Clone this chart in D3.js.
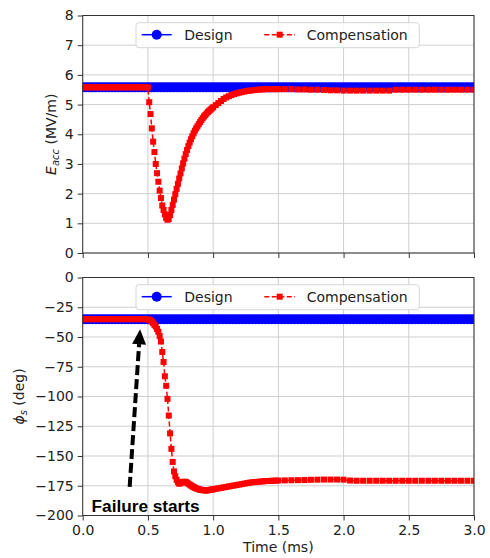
<!DOCTYPE html>
<html>
<head>
<meta charset="utf-8">
<script src="https://cdn.jsdelivr.net/npm/d3@7"></script>
<style>
    body { margin: 0; background: #fff; }
    text { font-family: "DejaVu Sans", sans-serif; fill: #222; }
</style>
</head>
<body>
<div id="chart"></div>
<script>

// time samples of the compensation run (ms)
var timeMs = [
    0.00, 0.02, 0.04, 0.06, 0.08, 0.10, 0.12, 0.14, 0.16, 0.18, 0.20, 0.22, 0.24,
    0.26, 0.28, 0.30, 0.32, 0.34, 0.36, 0.38, 0.40, 0.42, 0.44, 0.46, 0.48,
    0.50, 0.51, 0.52, 0.53, 0.54, 0.55, 0.56, 0.57, 0.58, 0.59, 0.60, 0.61, 0.62,
    0.63, 0.64, 0.65, 0.66, 0.67, 0.68, 0.69, 0.70, 0.71, 0.72, 0.73, 0.74, 0.75,
    0.76, 0.77, 0.78, 0.79, 0.80, 0.81, 0.82, 0.83, 0.84, 0.85, 0.86, 0.87, 0.88,
    0.89, 0.90, 0.91, 0.92, 0.93, 0.94, 0.95, 0.96, 0.97, 0.98, 0.99, 1.00,
    1.02, 1.04, 1.06, 1.08, 1.10, 1.12, 1.14, 1.16, 1.18, 1.20, 1.22, 1.24,
    1.26, 1.28, 1.30, 1.32, 1.34, 1.36, 1.38, 1.40, 1.42, 1.44, 1.46, 1.48, 1.50,
    1.55, 1.60, 1.65, 1.70, 1.75, 1.80, 1.85, 1.90, 1.95, 2.00, 2.05, 2.10,
    2.15, 2.20, 2.25, 2.30, 2.35, 2.40, 2.45, 2.50, 2.55, 2.60, 2.65, 2.70,
    2.75, 2.80, 2.85, 2.90, 2.95, 3.00
];

// Eacc (MV/m), compensation
var eaccComp = [
    5.58, 5.58, 5.58, 5.58, 5.58, 5.58, 5.58, 5.58, 5.58, 5.58, 5.58, 5.58, 5.58,
    5.58, 5.58, 5.58, 5.58, 5.58, 5.58, 5.58, 5.58, 5.58, 5.58, 5.58, 5.58,
    5.58, 5.08, 4.68, 4.20, 3.75, 3.40, 3.00, 2.69, 2.40, 2.10, 1.85, 1.60, 1.45,
    1.30, 1.18, 1.12, 1.15, 1.28, 1.45, 1.62, 1.80, 1.98, 2.16, 2.33, 2.51, 2.68,
    2.85, 3.02, 3.18, 3.33, 3.47, 3.60, 3.72, 3.83, 3.93, 4.03, 4.12, 4.20, 4.27,
    4.34, 4.41, 4.48, 4.54, 4.60, 4.65, 4.70, 4.75, 4.79, 4.83, 4.87, 4.91,
    4.98, 5.05, 5.12, 5.19, 5.24, 5.28, 5.32, 5.35, 5.38, 5.40, 5.42, 5.44,
    5.46, 5.47, 5.48, 5.49, 5.50, 5.51, 5.51, 5.52, 5.52, 5.52, 5.52, 5.52, 5.52,
    5.52, 5.52, 5.51, 5.51, 5.50, 5.50, 5.49, 5.48, 5.48, 5.47, 5.47, 5.47,
    5.47, 5.47, 5.47, 5.47, 5.47, 5.50, 5.50, 5.50, 5.50, 5.50, 5.50, 5.50,
    5.50, 5.50, 5.50, 5.50, 5.50, 5.50
];

// phi_s (deg), compensation
var phiComp = [
    -35, -35, -35, -35, -35, -35, -35, -35, -35, -35, -35, -35, -35,
    -35, -35, -35, -35, -35, -35, -35, -35, -35, -35, -35, -35,
    -35.2, -35.5, -36.0, -37.0, -38.4, -39.8, -41.1, -43.3, -45.6, -49.1, -53.8, -62.6, -71.0,
    -83.0, -91.0, -102.0, -116.0, -131.0, -144.0, -155.0, -163.0, -167.0, -170.0, -172.0, -173.3, -172.8,
    -172.2, -171.8, -171.6, -171.8, -172.5, -173.3, -174.0, -174.8, -175.5, -176.1, -176.7, -177.2, -177.6,
    -178.0, -178.3, -178.5, -178.7, -178.8, -178.9, -178.9, -178.8, -178.6, -178.4, -178.2, -178.0,
    -177.6, -177.2, -176.8, -176.4, -176.0, -175.6, -175.2, -174.8, -174.4, -174.0, -173.6, -173.2,
    -172.8, -172.4, -172.1, -171.9, -171.7, -171.5, -171.3, -171.1, -171.0, -170.9, -170.8, -170.7, -170.6,
    -170.5, -170.4, -170.3, -170.2, -170.0, -169.9, -169.8, -169.8, -169.8, -169.9, -170.6, -170.8,
    -170.8, -170.8, -170.8, -170.8, -170.8, -170.8, -170.8, -170.8, -170.8, -170.8, -170.8, -170.8,
    -170.8, -170.8, -170.8, -170.8, -170.8, -170.8
];

// design values (constant set points)
var designTimeMs = [
    0.000, 0.025, 0.050, 0.075, 0.100, 0.125, 0.150, 0.175, 0.200, 0.225, 0.250, 0.275,
    0.300, 0.325, 0.350, 0.375, 0.400, 0.425, 0.450, 0.475, 0.500, 0.525, 0.550, 0.575,
    0.600, 0.625, 0.650, 0.675, 0.700, 0.725, 0.750, 0.775, 0.800, 0.825, 0.850, 0.875,
    0.900, 0.925, 0.950, 0.975, 1.000, 1.025, 1.050, 1.075, 1.100, 1.125, 1.150, 1.175,
    1.200, 1.225, 1.250, 1.275, 1.300, 1.325, 1.350, 1.375, 1.400, 1.425, 1.450, 1.475,
    1.500, 1.525, 1.550, 1.575, 1.600, 1.625, 1.650, 1.675, 1.700, 1.725, 1.750, 1.775,
    1.800, 1.825, 1.850, 1.875, 1.900, 1.925, 1.950, 1.975, 2.000, 2.025, 2.050, 2.075,
    2.100, 2.125, 2.150, 2.175, 2.200, 2.225, 2.250, 2.275, 2.300, 2.325, 2.350, 2.375,
    2.400, 2.425, 2.450, 2.475, 2.500, 2.525, 2.550, 2.575, 2.600, 2.625, 2.650, 2.675,
    2.700, 2.725, 2.750, 2.775, 2.800, 2.825, 2.850, 2.875, 2.900, 2.925, 2.950, 2.975,
    3.000
];
var eaccDesign = [
    5.58, 5.58, 5.58, 5.58, 5.58, 5.58, 5.58, 5.58, 5.58, 5.58, 5.58, 5.58,
    5.58, 5.58, 5.58, 5.58, 5.58, 5.58, 5.58, 5.58, 5.58, 5.58, 5.58, 5.58,
    5.58, 5.58, 5.58, 5.58, 5.58, 5.58, 5.58, 5.58, 5.58, 5.58, 5.58, 5.58,
    5.58, 5.58, 5.58, 5.58, 5.58, 5.58, 5.58, 5.58, 5.58, 5.58, 5.58, 5.58,
    5.58, 5.58, 5.58, 5.58, 5.58, 5.58, 5.58, 5.58, 5.58, 5.58, 5.58, 5.58,
    5.58, 5.58, 5.58, 5.58, 5.58, 5.58, 5.58, 5.58, 5.58, 5.58, 5.58, 5.58,
    5.58, 5.58, 5.58, 5.58, 5.58, 5.58, 5.58, 5.58, 5.58, 5.58, 5.58, 5.58,
    5.58, 5.58, 5.58, 5.58, 5.58, 5.58, 5.58, 5.58, 5.58, 5.58, 5.58, 5.58,
    5.58, 5.58, 5.58, 5.58, 5.58, 5.58, 5.58, 5.58, 5.58, 5.58, 5.58, 5.58,
    5.58, 5.58, 5.58, 5.58, 5.58, 5.58, 5.58, 5.58, 5.58, 5.58, 5.58, 5.58,
    5.58
];
var phiDesign = [
    -35, -35, -35, -35, -35, -35, -35, -35, -35, -35, -35, -35,
    -35, -35, -35, -35, -35, -35, -35, -35, -35, -35, -35, -35,
    -35, -35, -35, -35, -35, -35, -35, -35, -35, -35, -35, -35,
    -35, -35, -35, -35, -35, -35, -35, -35, -35, -35, -35, -35,
    -35, -35, -35, -35, -35, -35, -35, -35, -35, -35, -35, -35,
    -35, -35, -35, -35, -35, -35, -35, -35, -35, -35, -35, -35,
    -35, -35, -35, -35, -35, -35, -35, -35, -35, -35, -35, -35,
    -35, -35, -35, -35, -35, -35, -35, -35, -35, -35, -35, -35,
    -35, -35, -35, -35, -35, -35, -35, -35, -35, -35, -35, -35,
    -35, -35, -35, -35, -35, -35, -35, -35, -35, -35, -35, -35,
    -35
];

var seriesNames = ["Design", "Compensation"];
var timeTicks = [0, 0.5, 1.0, 1.5, 2.0, 2.5, 3.0];
var eaccTicks = [0, 1, 2, 3, 4, 5, 6, 7, 8];
var phiTicks = [-200, -175, -150, -125, -100, -75, -50, -25, 0];

// annotation in the phase panel: arrow tail, arrow tip, text anchor
var failureArrow = [[0.36, -176], [0.44, -43.5]];
var failureLabel = { text: "Failure starts", at: [0.068, -196.8] };


var width = 490, height = 558;
var left = 82.7, right = 474;

var svg = d3.select("#chart").append("svg")
    .attr("width", width)
    .attr("height", height);

var x = d3.scaleLinear()
    .domain([0, 3])
    .range([left, right]);

function drawPanel(p) {
    var y = d3.scaleLinear()
        .domain(p.domain)
        .range([p.bottom, p.top]);

    var g = svg.append("g");

    g.append("defs").append("clipPath")
        .attr("id", p.id + "-clip")
        .append("rect")
        .attr("x", left)
        .attr("y", p.top)
        .attr("width", right - left)
        .attr("height", p.bottom - p.top);

    // grid
    g.append("g").selectAll("line.vg")
        .data(timeTicks)
        .enter().append("line")
        .attr("x1", function(d) { return x(d); })
        .attr("x2", function(d) { return x(d); })
        .attr("y1", p.top)
        .attr("y2", p.bottom)
        .attr("stroke", "#cfcfcf")
        .attr("stroke-width", 1);
    g.append("g").selectAll("line.hg")
        .data(p.ticks)
        .enter().append("line")
        .attr("x1", left)
        .attr("x2", right)
        .attr("y1", function(d) { return y(d); })
        .attr("y2", function(d) { return y(d); })
        .attr("stroke", "#cfcfcf")
        .attr("stroke-width", 1);

    var plot = g.append("g").attr("clip-path", "url(#" + p.id + "-clip)");

    var design = p.design.map(function(v, i) { return [designTimeMs[i], v]; });
    var comp = p.comp.map(function(v, i) { return [timeMs[i], v]; });

    var line = d3.line()
        .x(function(d) { return x(d[0]); })
        .y(function(d) { return y(d[1]); });

    // design: solid blue with circles
    plot.append("path")
        .datum(design)
        .attr("d", line)
        .attr("fill", "none")
        .attr("stroke", "#0000ff")
        .attr("stroke-width", 1.5);
    plot.selectAll("circle.design")
        .data(design)
        .enter().append("circle")
        .attr("cx", function(d) { return x(d[0]); })
        .attr("cy", function(d) { return y(d[1]); })
        .attr("r", 5)
        .attr("fill", "#0000ff");

    // compensation: dashed red with squares
    plot.append("path")
        .datum(comp)
        .attr("d", line)
        .attr("fill", "none")
        .attr("stroke", "#ff0000")
        .attr("stroke-width", 1.5)
        .attr("stroke-dasharray", "5,2.5");
    plot.selectAll("rect.comp")
        .data(comp)
        .enter().append("rect")
        .attr("x", function(d) { return x(d[0]) - 3; })
        .attr("y", function(d) { return y(d[1]) - 3; })
        .attr("width", 6)
        .attr("height", 6)
        .attr("fill", "#ff0000");

    // axes
    var yAxis = d3.axisLeft(y).tickValues(p.ticks).tickSize(5).tickPadding(4);
    var xAxis = d3.axisBottom(x).tickValues(timeTicks).tickSize(5).tickPadding(5)
        .tickFormat(p.showX ? d3.format(".1f") : "");

    var ya = g.append("g")
        .attr("transform", "translate(" + left + ",0)")
        .call(yAxis);
    var xa = g.append("g")
        .attr("transform", "translate(0," + p.bottom + ")")
        .call(xAxis);
    [ya, xa].forEach(function(a) {
        a.select(".domain").remove();
        a.selectAll("line").attr("stroke", "#333");
        a.selectAll("text").style("font-size", "14px").attr("fill", "#222");
    });

    // frame
    g.append("rect")
        .attr("x", left)
        .attr("y", p.top)
        .attr("width", right - left)
        .attr("height", p.bottom - p.top)
        .attr("fill", "none")
        .attr("stroke", "#333")
        .attr("stroke-width", 1);

    // legend (upper center)
    var lg = g.append("g")
        .attr("transform", "translate(136," + (p.top + 7.2) + ")");
    lg.append("rect")
        .attr("width", 283.3)
        .attr("height", 25)
        .attr("rx", 3)
        .attr("fill", "#fff")
        .attr("fill-opacity", 0.85)
        .attr("stroke", "#d6d6d6");
    lg.append("line")
        .attr("x1", 5.7).attr("x2", 35.7)
        .attr("y1", 12).attr("y2", 12)
        .attr("stroke", "#0000ff").attr("stroke-width", 1.5);
    lg.append("circle")
        .attr("cx", 20.7).attr("cy", 12).attr("r", 5)
        .attr("fill", "#0000ff");
    lg.append("text")
        .attr("x", 48.3).attr("y", 17)
        .style("font-size", "14px")
        .text(seriesNames[0]);
    lg.append("line")
        .attr("x1", 128.3).attr("x2", 159)
        .attr("y1", 12).attr("y2", 12)
        .attr("stroke", "#ff0000").attr("stroke-width", 1.5)
        .attr("stroke-dasharray", "5,2.5");
    lg.append("rect")
        .attr("x", 140.7).attr("y", 9).attr("width", 6).attr("height", 6)
        .attr("fill", "#ff0000");
    lg.append("text")
        .attr("x", 170.7).attr("y", 17)
        .style("font-size", "14px")
        .text(seriesNames[1]);

    // y label
    var yl = g.append("text")
        .attr("transform", "translate(" + p.labelX + "," + ((p.top + p.bottom) / 2) + ") rotate(-90)")
        .attr("text-anchor", "middle")
        .style("font-size", "14px");
    p.label(yl);

    return { g: g, y: y };
}

var top = drawPanel({
    id: "eacc", top: 15.5, bottom: 253, domain: [0, 8], ticks: eaccTicks,
    comp: eaccComp, design: eaccDesign, showX: false, labelX: 56,
    label: function(t) {
        t.append("tspan").style("font-style", "italic").text("E");
        t.append("tspan").style("font-style", "italic").style("font-size", "10px")
            .attr("dy", 3).text("acc");
        t.append("tspan").attr("dy", -3).text(" (MV/m)");
    }
});

var bottom = drawPanel({
    id: "phi", top: 277.5, bottom: 515.5, domain: [-200, 0], ticks: phiTicks,
    comp: phiComp, design: phiDesign, showX: true, labelX: 24,
    label: function(t) {
        t.append("tspan").style("font-style", "italic").text("\u03d5");
        t.append("tspan").style("font-style", "italic").style("font-size", "10px")
            .attr("dy", 3).text("s");
        t.append("tspan").attr("dy", -3).text(" (deg)");
    }
});

// x label
svg.append("text")
    .attr("x", (left + right) / 2)
    .attr("y", 552)
    .attr("text-anchor", "middle")
    .style("font-size", "14px")
    .text("Time (ms)");

// failure annotation
var yb = bottom.y;
var x0 = x(failureArrow[0][0]), y0 = yb(failureArrow[0][1]);
var x1 = x(failureArrow[1][0]), y1 = yb(failureArrow[1][1]);
var len = Math.sqrt((x1 - x0) * (x1 - x0) + (y1 - y0) * (y1 - y0));
var ux = (x1 - x0) / len, uy = (y1 - y0) / len;
var headLen = 15, headHalf = 7;
var bx = x1 - ux * headLen, by = y1 - uy * headLen;

bottom.g.append("line")
    .attr("x1", x0).attr("y1", y0)
    .attr("x2", bx).attr("y2", by)
    .attr("stroke", "#000")
    .attr("stroke-width", 4)
    .attr("stroke-dasharray", "10,4");
bottom.g.append("path")
    .attr("d", "M" + x1 + "," + y1 +
        "L" + (bx - uy * headHalf) + "," + (by + ux * headHalf) +
        "L" + (bx + uy * headHalf) + "," + (by - ux * headHalf) + "Z")
    .attr("fill", "#000");

bottom.g.append("text")
    .attr("x", x(failureLabel.at[0]))
    .attr("y", yb(failureLabel.at[1]))
    .attr("textLength", 108)
    .attr("lengthAdjust", "spacingAndGlyphs")
    .style("font-family", "'Liberation Sans', Arial, sans-serif")
    .style("font-weight", "bold")
    .style("font-size", "16px")
    .style("fill", "#000")
    .text(failureLabel.text);

</script>
</body>
</html>
